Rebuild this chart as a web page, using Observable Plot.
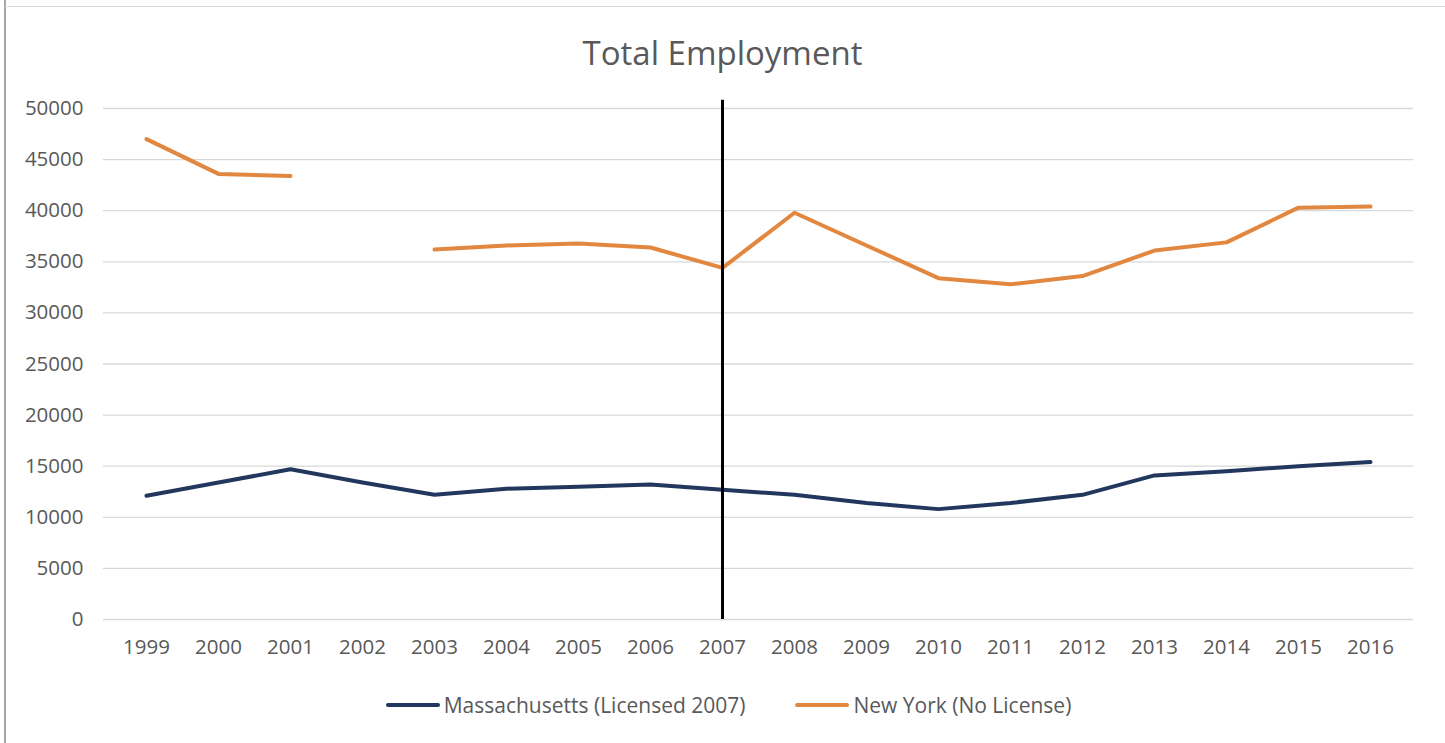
<!DOCTYPE html>
<html>
<head>
<meta charset="utf-8">
<script src="https://cdn.jsdelivr.net/npm/d3@7"></script>
<script src="https://cdn.jsdelivr.net/npm/@observablehq/plot@0.6"></script>
<style>
  html, body { margin: 0; padding: 0; background: #fff; overflow: hidden; }
  #wrap { position: relative; width: 1445px; height: 743px; font-family: "Open Sans", sans-serif; }
  #lborder { position: absolute; left: 4px; top: 0; width: 2px; height: 743px; background: #a6a6a6; }
  #tborder { position: absolute; left: 5px; top: 6px; width: 1440px; height: 1px; background: #d9d9d9; }
  #title { position: absolute; top: 31px; left: 0; width: 1445px; text-align: center; font-size: 33px; color: #595959; line-height: 44px; }
  #chart { position: absolute; top: 0; left: 0; }
  #legend { position: absolute; top: 691px; left: 0; width: 1445px; display: flex; justify-content: center; gap: 50px; font-size: 21px; line-height: 28px; color: #595959; padding-left: 12px; box-sizing: border-box; }
  .item { display: flex; align-items: center; gap: 4px; }
  .sw { width: 54px; height: 4px; border-radius: 2px; }
</style>
</head>
<body>
<div id="wrap">
  <div id="lborder"></div>
  <div id="tborder"></div>
  <div id="title">Total Employment</div>
  <div id="chart"></div>
  <div id="legend"></div>
</div>
<script>
const years = ["1999","2000","2001","2002","2003","2004","2005","2006","2007","2008","2009","2010","2011","2012","2013","2014","2015","2016"];
const massachusetts = [12100, 13400, 14700, 13400, 12200, 12800, 13000, 13200, 12700, 12200, 11400, 10800, 11400, 12200, 14100, 14500, 15000, 15400];
const newYork = [47000, 43600, 43400, null, 36200, 36600, 36800, 36400, 34400, 39800, 36600, 33400, 32800, 33600, 36100, 36900, 40300, 40400];
const seriesNames = ["Massachusetts (Licensed 2007)", "New York (No License)"];
const seriesColors = ["#22375e", "#e2873f"];
const yTicks = [0, 5000, 10000, 15000, 20000, 25000, 30000, 35000, 40000, 45000, 50000];
const markerYear = ["2007"];
const markerTop = 50800;

const rows = [];
years.forEach((yr, i) => {
  rows.push({year: yr, value: massachusetts[i], series: seriesNames[0]});
  rows.push({year: yr, value: newYork[i], series: seriesNames[1]});
});

const plot = Plot.plot({
  width: 1445,
  height: 743,
  marginLeft: 103,
  marginRight: 32,
  marginTop: 108,
  marginBottom: 124,
  style: {fontFamily: "Open Sans, sans-serif", fontSize: "20px", color: "#595959", background: "transparent"},
  x: {type: "point", domain: years, padding: 0.5, label: null},
  y: {domain: [0, 50000], label: null},
  color: {domain: seriesNames, range: seriesColors},
  marks: [
    Plot.gridY(yTicks, {stroke: "#d9d9d9", strokeOpacity: 1, strokeWidth: 1.3}),
    Plot.axisY(yTicks, {tickSize: 0, tickPadding: 20, fontSize: 20.5, fill: "#595959", tickFormat: d => String(d), label: null}),
    Plot.axisX({tickSize: 0, tickPadding: 20, fontSize: 20.5, fill: "#595959", label: null}),
    Plot.line(rows, {x: "year", y: "value", z: "series", stroke: "series", strokeWidth: 4, strokeLinejoin: "round", strokeLinecap: "round"}),
    Plot.ruleX(markerYear, {y1: 0, y2: markerTop, stroke: "#000", strokeWidth: 3})
  ]
});
document.getElementById("chart").appendChild(plot);

const legend = document.getElementById("legend");
seriesNames.forEach((name, i) => {
  const it = document.createElement("div");
  it.className = "item";
  const sw = document.createElement("div");
  sw.className = "sw";
  sw.style.background = seriesColors[i];
  const tx = document.createElement("span");
  tx.textContent = name;
  it.appendChild(sw);
  it.appendChild(tx);
  legend.appendChild(it);
});
</script>
</body>
</html>
